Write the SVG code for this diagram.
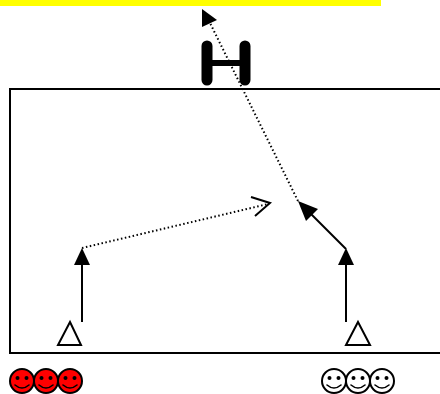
<svg xmlns="http://www.w3.org/2000/svg" width="440" height="394" viewBox="0 0 440 394">
<style>
.ln{fill:none;stroke:#000;stroke-width:2}
.dot{fill:none;stroke:#000;stroke-width:2;stroke-dasharray:1.5 2.5}
.tri{fill:#fff;stroke:#000;stroke-width:2;stroke-linejoin:miter}
.face{stroke:#000;stroke-width:2}
.red{fill:#f00}
.white{fill:#fff}
.eye{fill:#000}
.mouth{fill:none;stroke:#000;stroke-width:1.6;stroke-linecap:round}
.head{fill:#000}
</style>
<defs>
<g id="smile">
<circle class="eye" cx="-4.5" cy="-3" r="2"/>
<circle class="eye" cx="4.5" cy="-3" r="2"/>
<path class="mouth" d="M-7 4Q0 10 7 4"/>
</g>
</defs>
<rect id="banner" x="0" y="0" width="381" height="6" fill="#ff0"/>
<rect id="field" x="10" y="89" width="432" height="264" fill="none" stroke="#000" stroke-width="2"/>
<g id="goal" fill="none" stroke="#000" stroke-linecap="round">
<path d="M207 46V80M245 46V80" stroke-width="11"/>
<path d="M207 63H245" stroke-width="6"/>
</g>
<g id="connectors">
<path class="ln" d="M82 322V262"/>
<path class="head" d="M82 248L90 265H74Z"/>
<path class="ln" d="M346 322V262"/>
<path class="head" d="M346 248L354 265H338Z"/>
<path class="ln" d="M346 249L309 212"/>
<path class="head" d="M298 201L318 209L306 221Z"/>
<path class="dot" d="M82 248L268 204"/>
<path class="ln" d="M251 197L270 203L255 216"/>
<path class="dot" d="M298 201L210 23"/>
<path class="head" d="M202 9L217 20L202 27Z"/>
</g>
<g id="player-left"><path class="tri" d="M70 322L81 345H58Z"/></g>
<g id="player-right"><path class="tri" d="M358 322L370 345H346Z"/></g>
<g id="red-1" transform="translate(22 381)"><circle class="face red" r="12"/><use href="#smile"/></g>
<g id="red-2" transform="translate(46 381)"><circle class="face red" r="12"/><use href="#smile"/></g>
<g id="red-3" transform="translate(70 381)"><circle class="face red" r="12"/><use href="#smile"/></g>
<g id="white-1" transform="translate(334 381)"><circle class="face white" r="12"/><use href="#smile"/></g>
<g id="white-2" transform="translate(358 381)"><circle class="face white" r="12"/><use href="#smile"/></g>
<g id="white-3" transform="translate(382 381)"><circle class="face white" r="12"/><use href="#smile"/></g>
</svg>
